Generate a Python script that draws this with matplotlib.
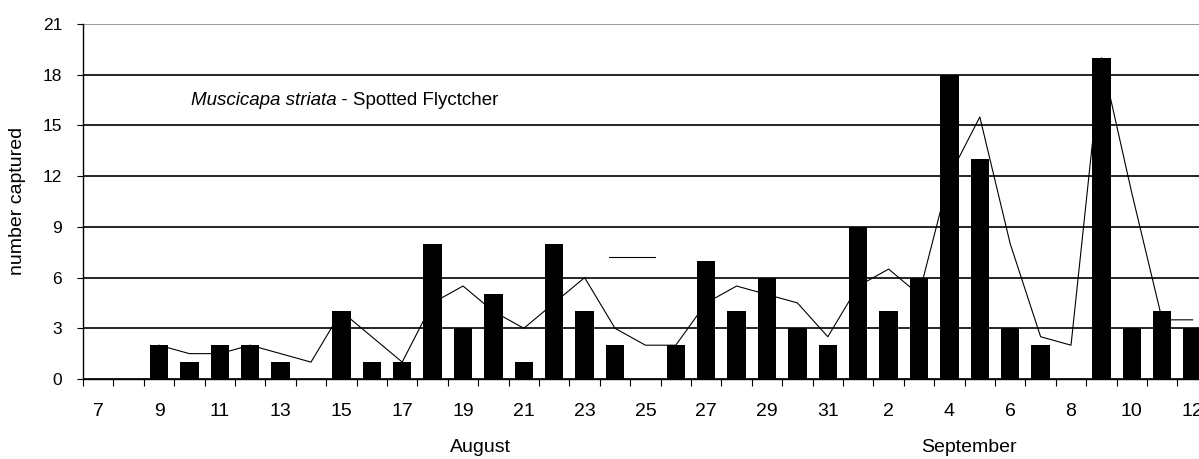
import numpy as np
import matplotlib
matplotlib.use("Agg")
import matplotlib.pyplot as plt
import matplotlib.transforms as mtransforms

plt.rcParams['font.family'] = ['Liberation Sans', 'DejaVu Sans']

# days 7 Aug .. 12 Sep, one category per day
day_labels = [str(d) for d in range(7, 32)] + [str(d) for d in range(1, 13)]
month_names = ["August", "September"]

# number captured per day (nan = no catch / no bar)
captured = [np.nan, np.nan, 2, 1, 2, 2, 1, np.nan, 4, 1, 1, 8, 3, 5, 1, 8, 4, 2,
            np.nan, 2, 7, 4, 6, 3, 2, 9, 4, 6, 18, 13, 3, 2, np.nan, 19, 3, 4, 3]

# 2-day running mean drawn as the thin line (starts at 9 Aug)
trend_start = 2
trend = [2, 1.5, 1.5, 2, 1.5, 1, 4, 2.5, 1, 4.5, 5.5, 4, 3, 4.5, 6, 3, 2, 2,
         4.5, 5.5, 5, 4.5, 2.5, 5.5, 6.5, 5, 12, 15.5, 8, 2.5, 2, 19, 11, 3.5, 3.5]

x = np.arange(len(day_labels))
xt = np.arange(trend_start, trend_start + len(trend))

fig = plt.figure(figsize=(11.99, 4.59), dpi=100)
ax = fig.add_axes([83 / 1199, 80 / 459, 1 - 83 / 1199, 355 / 459])

ax.bar(x, captured, width=0.6, color='black', zorder=4)
trend_line, = ax.plot(xt, trend, color='black', lw=0.8, zorder=3)

ax.set_xlim(-0.5, 36.21)
ax.set_ylim(0, 21)

# y axis
ax.set_yticks(range(0, 22, 3))
ax.tick_params(axis='y', direction='out', length=4.5, width=0.8, pad=10.5,
               labelsize=12.5, colors='black')
ax.yaxis.grid(True, color='black', lw=1.2, zorder=1)
ax.get_ygridlines()[-1].set_color('#8a8a8a')
ax.set_axisbelow(True)

# x axis: ticks on category boundaries, labels on every other day
ax.set_xticks(np.arange(-0.5, 36.5, 1.0))
ax.set_xticklabels([])
ax.tick_params(axis='x', which='major', direction='out', length=5, width=0.8)
ax.set_xticks(x[::2], minor=True)
ax.set_xticklabels(day_labels[::2], minor=True)
ax.tick_params(axis='x', which='minor', length=0, pad=17, labelsize=14)

for side in ['top', 'right']:
    ax.spines[side].set_visible(False)
for side in ['left', 'bottom']:
    ax.spines[side].set_linewidth(1.0)

# month names under the day labels
trans = mtransforms.blended_transform_factory(ax.transData, ax.transAxes)
ax.text(12.56, -0.168, month_names[0], transform=trans, ha='center', va='top', fontsize=14)
ax.text(28.65, -0.168, month_names[1], transform=trans, ha='center', va='top', fontsize=14)

fig.text(18 / 1199, 1 - 201 / 459, "number captured", rotation=90,
         ha='center', va='center', fontsize=14)

# species caption
t1 = ax.text(0.0965, 0.772, "Muscicapa striata", transform=ax.transAxes,
             fontsize=13.5, style='italic', va='baseline', ha='left')
ax.annotate(" - Spotted Flyctcher", xy=(1, 0), xycoords=t1, va='bottom',
            ha='left', fontsize=13.5)

# leftover legend sample of the trend line
ax.legend([trend_line], [''], loc='center left', bbox_to_anchor=(0.4716, 0.341),
          frameon=False, handlelength=3.3, borderpad=0, borderaxespad=0,
          handletextpad=0, fontsize=10)

fig.savefig("out.png", dpi=100)
